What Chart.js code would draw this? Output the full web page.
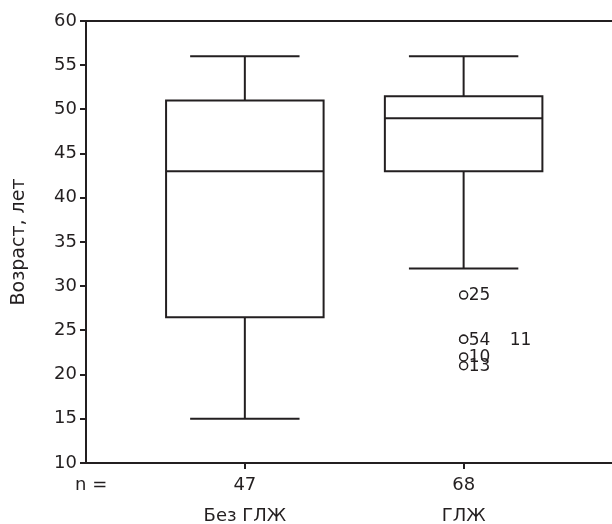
<!DOCTYPE html>
<html lang="ru">
<head>
<meta charset="utf-8">
<title>Возраст, лет</title>
<script src="https://cdn.jsdelivr.net/npm/chart.js@4.4.1/dist/chart.umd.min.js"></script>
<style>
    html, body { margin: 0; padding: 0; background: #fff; }
    #grafico { display: block; }
</style>
</head>
<body>
<canvas id="grafico" width="612" height="524"></canvas>
<script>
// Данные (boxplot)
const grupos = ['Без ГЛЖ', 'ГЛЖ'];
const nGrupos = ['47', '68'];
const minimo = [15, 32];
const q1 = [26.5, 43];
const mediana = [43, 49];
const q3 = [51, 51.5];
const maximo = [56, 56];

// Выбросы: группа (индекс), значение, номер наблюдения
const outGrupo = [1, 1, 1, 1, 1];
const outValor = [29, 24, 24, 22, 21];
const outRotulo = ['25', '54', '11', '10', '13'];

// Estilo
const cor = '#231f20';
const fonte = "'DejaVu Sans', sans-serif";
const meiaCaixa = 0.36;   // meia largura da caixa (unidades do eixo x)
const meioBigode = 0.25;  // meia largura do traço do bigode

Chart.defaults.font.family = fonte;
Chart.defaults.color = cor;

function segmento(pontos) {
    return {
        type: 'line',
        data: pontos.map(([x, y]) => ({ x, y })),
        borderColor: cor,
        borderWidth: 2,
        pointRadius: 0,
        fill: false,
        tension: 0,
        showLine: true
    };
}

const datasets = [];
grupos.forEach((g, i) => {
    const x = i + 1;
    // caixa
    datasets.push(segmento([[x, q1[i]], [x + meiaCaixa, q1[i]], [x + meiaCaixa, q3[i]],
        [x - meiaCaixa, q3[i]], [x - meiaCaixa, q1[i]], [x, q1[i]]]));
    // mediana
    datasets.push(segmento([[x - meiaCaixa, mediana[i]], [x + meiaCaixa, mediana[i]]]));
    // bigodes
    datasets.push(segmento([[x, q3[i]], [x, maximo[i]]]));
    datasets.push(segmento([[x - meioBigode, maximo[i]], [x + meioBigode, maximo[i]]]));
    datasets.push(segmento([[x, q1[i]], [x, minimo[i]]]));
    datasets.push(segmento([[x - meioBigode, minimo[i]], [x + meioBigode, minimo[i]]]));
});

// выбросы
datasets.push({
    type: 'scatter',
    label: 'outliers',
    data: outValor.map((v, k) => ({ x: outGrupo[k] + 1, y: v })),
    pointStyle: 'circle',
    pointRadius: 4,
    borderWidth: 1.5,
    borderColor: cor,
    backgroundColor: '#fff'
});

// Plugin: moldura superior, rótulos dos outliers e "n ="
const extras = {
    id: 'extras',
    afterDatasetsDraw(chart) {
        const ctx = chart.ctx;
        const area = chart.chartArea;
        ctx.save();
        ctx.strokeStyle = cor;
        ctx.lineWidth = 2;
        ctx.beginPath();
        ctx.moveTo(area.left - 1, area.top);
        ctx.lineTo(chart.width, area.top);
        // prolonga o eixo x até a borda
        ctx.moveTo(area.right - 1, area.bottom);
        ctx.lineTo(chart.width, area.bottom);
        ctx.stroke();

        // rótulos dos outliers
        const idx = chart.data.datasets.length - 1;
        const meta = chart.getDatasetMeta(idx);
        ctx.font = "17px " + fonte;
        ctx.fillStyle = cor;
        ctx.textBaseline = 'middle';
        ctx.textAlign = 'left';
        const usados = {};
        meta.data.forEach((pt, k) => {
            const chave = outGrupo[k] + '_' + outValor[k];
            const rep = usados[chave] || 0;
            usados[chave] = rep + 1;
            ctx.fillText(outRotulo[k], pt.x + 5 + rep * 41, pt.y + 1);
        });

        // "n ="
        const xs = chart.scales.x;
        ctx.font = "18px " + fonte;
        ctx.fillText('n =', 75, xs.top + 6 + 1 + 15.5);
        ctx.restore();
    }
};

new Chart(document.getElementById('grafico'), {
    type: 'scatter',
    data: { datasets: datasets },
    options: {
        responsive: false,
        animation: false,
        layout: { padding: { top: 21, right: 0, left: 0, bottom: 0 } },
        plugins: {
            legend: { display: false },
            tooltip: { enabled: false }
        },
        scales: {
            x: {
                type: 'linear',
                min: 0.274,
                max: 2.653,
                afterBuildTicks: scale => {
                    scale.ticks = grupos.map((g, i) => ({ value: i + 1 }));
                },
                afterFit: scale => {
                    scale.height = 61;
                    scale.paddingLeft = 0;
                    scale.paddingRight = 0;
                },
                ticks: {
                    callback: (value, index) => [nGrupos[index], grupos[index]],
                    font: { size: 18, lineHeight: 1.72 },
                    color: cor,
                    padding: 1,
                    maxRotation: 0
                },
                grid: { drawOnChartArea: false, drawTicks: true, tickLength: 6, color: cor, lineWidth: 2 },
                border: { color: cor, width: 2 }
            },
            y: {
                min: 10,
                max: 60,
                afterFit: scale => { scale.width = 86; },
                ticks: { stepSize: 5, font: { size: 18 }, color: cor, padding: 3 },
                title: {
                    display: true,
                    text: 'Возраст, лет',
                    font: { size: 19 },
                    color: cor,
                    padding: { top: 8, bottom: 0 }
                },
                grid: { drawOnChartArea: false, drawTicks: true, tickLength: 6, color: cor, lineWidth: 2 },
                border: { color: cor, width: 2 }
            }
        }
    },
    plugins: [extras]
});
</script>
</body>
</html>
